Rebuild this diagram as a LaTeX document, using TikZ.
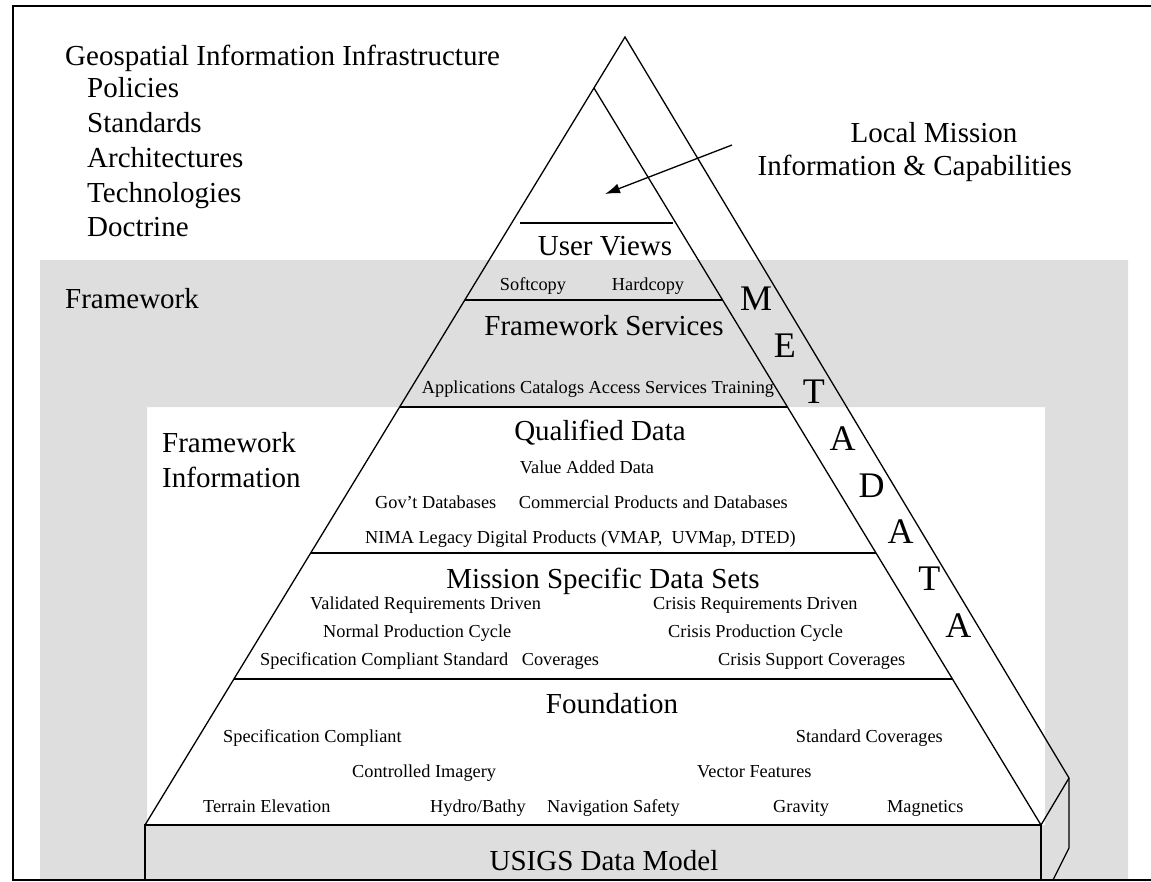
\documentclass[tikz,border=0pt]{standalone}
\usepackage{fontspec}
\setmainfont{Liberation Serif}
\usetikzlibrary{arrows.meta}
\tikzset{>={Latex[length=15pt,width=10pt]}}
\definecolor{stip}{HTML}{DEDEDE}
\newcommand\fbig{\fontsize{29}{33}\selectfont}
\newcommand\fsmall{\fontsize{18.3}{21}\selectfont}
\newcommand\fmeta{\fontsize{36}{40}\selectfont}
\tikzstyle{bigtxt}=[font=\fbig,inner sep=0pt]
\tikzstyle{smalltxt}=[font=\fsmall,inner sep=0pt,anchor=base west]
\tikzstyle{metatxt}=[font=\fmeta,inner sep=0pt]
\tikzstyle{pyr line}=[line width=1.3pt]
\tikzstyle{band line}=[line width=2.3pt]

\begin{document}
\begin{tikzpicture}[x=1pt,y=-1pt]
  \useasboundingbox (0,0) rectangle (1151,881);
  \fill[stip,even odd rule] (40,260) rectangle (1128,880) (147,407) rectangle (1045,825); % framework
  \draw[line width=2pt] (1151,6) -- (13,6) -- (13,880) -- (1151,880);
  \coordinate (apex) at (625,37);
  \coordinate (bl) at (145,825);
  \coordinate (br) at (1041,825);
  \coordinate (otr) at (1069,778);
  \coordinate (itop) at (intersection of apex--bl and 0,88--1,88);
  \draw[pyr line] (bl) -- (apex) -- (otr) -- (1069,848) -- (1053,880);
  \draw[pyr line] (itop) -- (br) -- (otr);
  \draw[pyr line] (br) -- (1041,880);
  \draw[band line] (145,880) -- (bl) -- (br);
  \foreach \y in {300,407,553,679}
    \draw[band line] (intersection of apex--bl and 0,\y--1,\y) -- (intersection of itop--br and 0,\y--1,\y);
  \draw[band line] (520,223) -- (673,223);

  \node[bigtxt,anchor=base west] (gii) at (65,65) {Geospatial Information Infrastructure};
  \foreach \t/\yy [count=\i] in {Policies/97,Standards/132,Architectures/167,Technologies/202,Doctrine/236}
    \node[bigtxt,anchor=base west] (gii\i) at (87,\yy) {\t};
  \node[bigtxt,anchor=base] (lm) at (934,142) {Local Mission};
  \node[bigtxt,anchor=base east] (lmi) at (1072,175) {Information \& Capabilities};
  \coordinate (lmstart) at (732,145);
  \coordinate (lmtip) at (605,194);
  \draw[->,line width=1.3pt] (lmstart) -- (lmtip);

  \node[bigtxt,anchor=base west] (fw) at (65,308) {Framework};
  \node[bigtxt,anchor=base west] (fwi) at (162,452) {Framework};
  \node[bigtxt,anchor=base west] (fwi2) at (162,487) {Information};

  \node[bigtxt,anchor=base] (uv) at (605,255) {User Views};
  \node[smalltxt,anchor=base] (soft) at (533,290) {Softcopy};
  \node[smalltxt,anchor=base] (hard) at (648,290) {Hardcopy};
  \node[bigtxt,anchor=base] (fs) at (604,335) {Framework Services};
  \node[smalltxt,anchor=base] (fsl) at (598,393) {Applications Catalogs Access Services Training};

  \node[bigtxt,anchor=base] (qd) at (600,440) {Qualified Data};
  \node[smalltxt,anchor=base] (vad) at (587,473) {Value Added Data};
  \node[smalltxt] (gov) at (375,508) {Gov’t Databases};
  \node[smalltxt,anchor=base east] (comm) at (788,508) {Commercial Products and Databases};
  \node[smalltxt] (nima) at (365,543) {NIMA Legacy Digital Products (VMAP,\ \ UVMap, DTED)};

  \node[bigtxt,anchor=base] (msd) at (603,588) {Mission Specific Data Sets};
  \node[smalltxt] (vrd) at (310,609) {Validated Requirements Driven};
  \node[smalltxt] (crd) at (653,609) {Crisis Requirements Driven};
  \node[smalltxt] (npc) at (323,637) {Normal Production Cycle};
  \node[smalltxt] (cpc) at (668,637) {Crisis Production Cycle};
  \node[smalltxt] (scs) at (260,665) {Specification Compliant Standard\hspace{9pt} Coverages};
  \node[smalltxt] (csc) at (718,665) {Crisis Support Coverages};

  \node[bigtxt,anchor=base] (fnd) at (612,713) {Foundation};
  \node[smalltxt] (spc) at (223,742) {Specification Compliant};
  \node[smalltxt,anchor=base east] (stc) at (943,742) {Standard Coverages};
  \node[smalltxt] (cim) at (352,777) {Controlled Imagery};
  \node[smalltxt] (vf) at (697,777) {Vector Features};
  \node[smalltxt] (te) at (203,812) {Terrain Elevation};
  \node[smalltxt] (hb) at (430,812) {Hydro/Bathy};
  \node[smalltxt] (ns) at (547,812) {Navigation Safety};
  \node[smalltxt] (grv) at (773,812) {Gravity};
  \node[smalltxt] (mag) at (887,812) {Magnetics};
  \node[bigtxt,anchor=base] (usigs) at (604,870) {USIGS Data Model};

  \foreach \c [count=\i from 0] in {M,E,T,A,D,A,T,A}
    \node[metatxt] (meta\i) at (756+28.9*\i,299+46.6*\i) {\c};
\end{tikzpicture}
\end{document}
